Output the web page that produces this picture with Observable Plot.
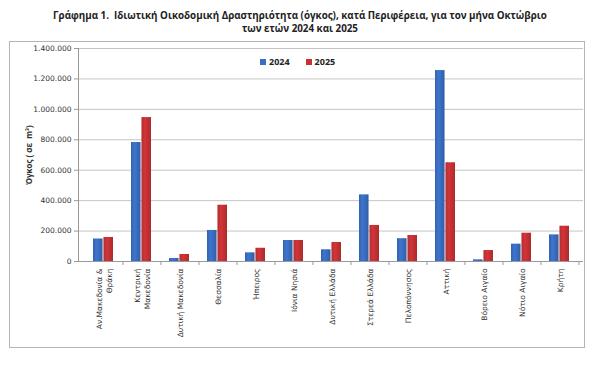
<!DOCTYPE html>
<html>
<head>
<meta charset="utf-8">
<script src="https://cdn.jsdelivr.net/npm/d3@7"></script>
<script src="https://cdn.jsdelivr.net/npm/@observablehq/plot@0.6"></script>
<style>
  html, body { margin: 0; padding: 0; background: #fff; }
  body { width: 600px; height: 365px; position: relative; overflow: hidden; font-family: "Open Sans", "Noto Sans", sans-serif; }
  #title { position: absolute; left: 0; top: 9px; width: 600px; text-align: center; font-weight: bold; font-size: 9.8px; line-height: 13px; color: #222; }
  #box { position: absolute; left: 9px; top: 41px; width: 574px; height: 305px; border: 1px solid #b5b5b5; }
  #chart { position: absolute; left: 0; top: 0; }
  #legend { position: absolute; left: 250px; top: 13px; font-family: "Open Sans", sans-serif; font-weight: bold; font-size: 9px; color: #222; white-space: nowrap; }
  #legend span.sw { display: inline-block; width: 6px; height: 6px; margin-right: 3px; vertical-align: 0px; }
  #legend span.item { margin-right: 16px; }
</style>
</head>
<body>
<div id="title">Γράφημα 1.&nbsp; Ιδιωτική Οικοδομική Δραστηριότητα (όγκος), κατά Περιφέρεια, για τον μήνα Οκτώβριο<br>των ετών 2024 και 2025</div>
<div id="box">
  <div id="chart"></div>
  <div id="legend"></div>
</div>
<script>
const regions = [
  "Αν.Μακεδονία &\nΘράκη",
  "Κεντρική\nΜακεδονία",
  "Δυτική Μακεδονία",
  "Θεσσαλία",
  "Ήπειρος",
  "Ιόνια Νησιά",
  "Δυτική Ελλάδα",
  "Στερεά Ελλάδα",
  "Πελοπόννησος",
  "Αττική",
  "Βόρειο Αιγαίο",
  "Νότιο Αιγαίο",
  "Κρήτη"
];
const v2024 = [148000, 782000, 20000, 204000, 57000, 138000, 77000, 438000, 150000, 1255000, 11000, 114000, 175000];
const v2025 = [158000, 946000, 46000, 370000, 87000, 138000, 125000, 237000, 171000, 649000, 72000, 186000, 232000];
const seriesNames = ["2024", "2025"];
const seriesColors = ["#3a6fc4", "#c93235"];
const yTicks = [0, 200000, 400000, 600000, 800000, 1000000, 1200000, 1400000];
const yLabel = "Όγκος ( σε  m³)";

const rows = regions.map((r, i) => ({region: r, a: v2024[i], b: v2025[i]}));
const fmt = d3.formatLocale({decimal: ",", thousands: ".", grouping: [3], currency: ["", "€"]}).format(",d");

const W = 574, H = 305;
const plot = Plot.plot({
  width: W,
  height: H,
  marginLeft: 68,
  marginRight: 1,
  marginTop: 6,
  marginBottom: 86,
  style: {fontFamily: "'DejaVu Sans', sans-serif", fontSize: "7px", color: "#333", background: "transparent"},
  x: {type: "band", domain: regions, padding: 0, axis: null},
  y: {domain: [0, 1400000], axis: null},
  marks: [
    Plot.gridY(yTicks, {stroke: "#c4c4c4", strokeOpacity: 1, strokeWidth: 1}),
    Plot.barY(rows, {x: "region", y: "a", fill: "url(#gBlue)", insetLeft: 9, insetRight: 19.45}),
    Plot.barY(rows, {x: "region", y: "b", fill: "url(#gRed)", insetLeft: 19.45, insetRight: 9}),
    Plot.ruleY([0], {stroke: "#999"}),
    Plot.frame({anchor: "left", stroke: "#999"}),
    Plot.ruleX(regions, {x: d => d, y1: 0, y2: 0, dx: 19.46, insetBottom: -4, stroke: "#999"}),
    Plot.axisY(yTicks, {
      tickFormat: fmt, tickSize: 4, tickPadding: 3, stroke: "#999",
      label: yLabel, labelAnchor: "center", labelArrow: "none", labelOffset: 52,
      fontSize: 7.5
    }),
    Plot.axisX({tickSize: 0, tickRotate: -90, tickPadding: 7, fontSize: 7.5, lineHeight: 1.45, label: null})
  ]
});

// gradient defs for Excel-like bars
const svg = d3.select(plot);
const defs = svg.insert("defs", ":first-child");
function grad(id, c) {
  const base = d3.color(c);
  const g = defs.append("linearGradient").attr("id", id).attr("x1", "0").attr("x2", "1").attr("y1", "0").attr("y2", "0");
  g.append("stop").attr("offset", "0%").attr("stop-color", base.darker(0.35));
  g.append("stop").attr("offset", "35%").attr("stop-color", base.brighter(0.15));
  g.append("stop").attr("offset", "100%").attr("stop-color", base.darker(0.45));
}
grad("gBlue", seriesColors[0]);
grad("gRed", seriesColors[1]);
// style y-axis label
svg.selectAll('g[aria-label="y-axis label"] text').attr("font-weight", "bold").attr("font-family", "'Open Sans', sans-serif").attr("font-size", 8);

document.getElementById("chart").appendChild(plot);

const legend = document.getElementById("legend");
seriesNames.forEach((n, i) => {
  const item = document.createElement("span");
  item.className = "item";
  const sw = document.createElement("span");
  sw.className = "sw";
  sw.style.background = seriesColors[i];
  item.appendChild(sw);
  item.appendChild(document.createTextNode(n));
  legend.appendChild(item);
});
</script>
</body>
</html>
